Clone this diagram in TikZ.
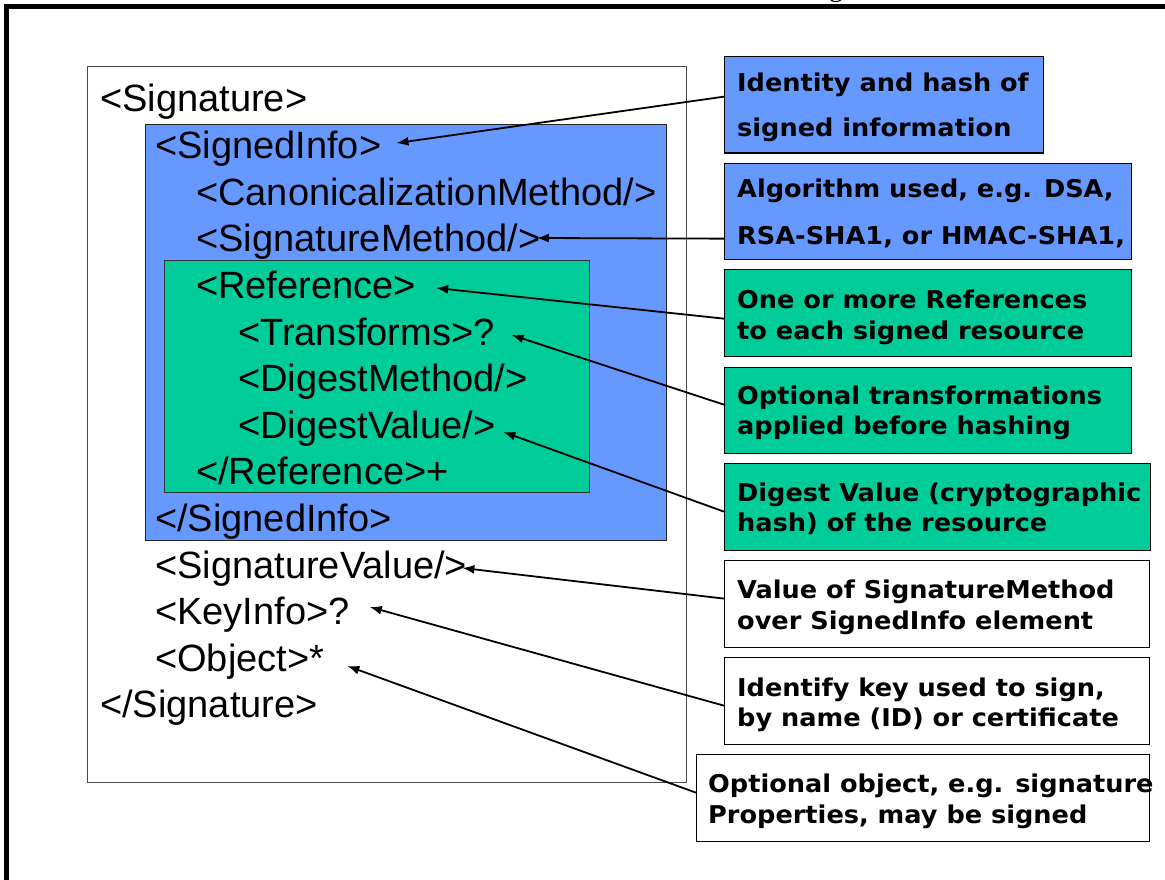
\documentclass[tikz,border=0pt]{standalone}
\usepackage{fontspec}
\setmainfont{Liberation Sans}
\newfontfamily\calloutfont{DejaVu Sans}[FakeStretch=1.045]
\newfontfamily\headfont{Liberation Serif}
\usetikzlibrary{arrows.meta}

\definecolor{infoblue}{RGB}{102,153,255}
\definecolor{refgreen}{RGB}{0,204,153}

\tikzset{
  panel/.style={anchor=north west, inner sep=0pt, line width=1pt},
  tag/.style={anchor=base west, inner sep=0pt, font=\fontsize{38}{46}\selectfont},
  cbox/.style={draw=black, line width=1.3pt, anchor=north west, inner sep=0pt},
  ctext/.style={anchor=base west, inner sep=0pt,
    font=\calloutfont\bfseries\fontsize{24.5}{30}\selectfont},
  pointer/.style={line width=1.8pt, -{Latex[length=12pt,width=9pt]}}
}

\begin{document}
\begin{tikzpicture}[x=1pt, y=-1pt]
\useasboundingbox (0,0) rectangle (1165,880);
\fill[white] (0,0) rectangle (1165,880);

% page frame and the tail of the page heading
\node[anchor=base, inner sep=0pt, font=\headfont\fontsize{28}{30}\selectfont] (heading) at (836,-3) {g};
\draw[line width=5pt, line join=miter] (6.5,890) -- (6.5,6.5) -- (1170,6.5);

% nested element panels
\node[panel, draw=black!70, fill=white, minimum width=599, minimum height=716] (sigpanel) at (87,66) {};
\node[panel, draw=black!85, fill=infoblue, minimum width=521, minimum height=416] (infopanel) at (145,124) {};
\node[panel, draw=black!80, fill=refgreen, minimum width=425, minimum height=232] (refpanel) at (164,260) {};

% XML element listing
\node[tag] (sigopen)   at (100,112)   {<Signature>};
\node[tag] (siopen)    at (155,158.6) {<SignedInfo>};
\node[tag] (canon)     at (196,205.2) {<CanonicalizationMethod/>};
\node[tag] (sigmeth)   at (196,251.8) {<SignatureMethod/>};
\node[tag] (refopen)   at (196,298.4) {<Reference>};
\node[tag] (transf)    at (238,345)   {<Transforms>?};
\node[tag] (digmeth)   at (238,391.6) {<DigestMethod/>};
\node[tag] (digval)    at (238,438.2) {<DigestValue/>};
\node[tag] (refclose)  at (196,484.8) {</Reference>+};
\node[tag] (siclose)   at (155,531.4) {</SignedInfo>};
\node[tag] (sigval)    at (155,578)   {<SignatureValue/>};
\node[tag] (keyinfo)   at (155,624.6) {<KeyInfo>?};
\node[tag] (object)    at (155,671.2) {<Object>*};
\node[tag] (sigclose)  at (100,717.8) {</Signature>};

% explanatory callouts
\node[cbox, fill=infoblue, minimum width=319,   minimum height=96.5] (c1) at (724,56)    {};
\node[cbox, fill=infoblue, minimum width=406.5, minimum height=96]   (c2) at (724,163)   {};
\node[cbox, fill=refgreen, minimum width=406.5, minimum height=87]   (c3) at (724,269)   {};
\node[cbox, fill=refgreen, minimum width=406.5, minimum height=86.5] (c4) at (724,366.5) {};
\node[cbox, fill=refgreen, minimum width=425.5, minimum height=87]   (c5) at (724,463)   {};
\node[cbox, fill=white,    minimum width=425,   minimum height=86.7] (c6) at (724,560)   {};
\node[cbox, fill=white,    minimum width=425,   minimum height=86.5] (c7) at (724,657)   {};
\node[cbox, fill=white,    minimum width=453,   minimum height=87]   (c8) at (696,753.5) {};

\node[ctext] (c1a) at (737,91.5)  {Identity and hash of};
\node[ctext] (c1b) at (737,137)   {signed information};
\node[ctext] (c2a) at (737,197.5) {Algorithm used, e.g. DSA,};
\node[ctext] (c2b) at (737,244)   {RSA-SHA1, or HMAC-SHA1,};
\node[ctext] (c3a) at (737,308)   {One or more References};
\node[ctext] (c3b) at (737,339)   {to each signed resource};
\node[ctext] (c4a) at (737,404)   {Optional transformations};
\node[ctext] (c4b) at (737,434.5) {applied before hashing};
\node[ctext] (c5a) at (737,501)   {Digest Value (cryptographic};
\node[ctext] (c5b) at (737,531.5) {hash) of the resource};
\node[ctext] (c6a) at (737,598)   {Value of SignatureMethod};
\node[ctext] (c6b) at (737,629)   {over SignedInfo element};
\node[ctext] (c7a) at (737,696)   {Identify key used to sign,};
\node[ctext] (c7b) at (737,726)   {by name (ID) or certificate};
\node[ctext] (c8a) at (708,792)   {Optional object, e.g. signature};
\node[ctext] (c8b) at (708,823)   {Properties, may be signed};

% pointers from each callout to its element
\draw[pointer] ([yshift=8.25pt]c1.west)  -- ([xshift=15pt,yshift=15.5pt]siopen.base east);
\draw[pointer] ([yshift=-27pt]c2.west)   -- ([xshift=-4pt,yshift=13.8pt]sigmeth.base east);
\draw[pointer] ([yshift=-5.5pt]c3.west)  -- ([xshift=20pt,yshift=10.4pt]refopen.base east);
\draw[pointer] ([yshift=5.75pt]c4.west)  -- ([xshift=17pt,yshift=10pt]transf.base east);
\draw[pointer] ([yshift=-4.5pt]c5.west)  -- ([xshift=8pt,yshift=6.2pt]digval.base east);
\draw[pointer] ([yshift=5.4pt]c6.west)   -- ([xshift=-5pt,yshift=10pt]sigval.base east);
\draw[pointer] ([yshift=-4.75pt]c7.west) -- ([xshift=20pt,yshift=17.6pt]keyinfo.base east);
\draw[pointer] ([yshift=5pt]c8.west)     -- ([xshift=23pt,yshift=5.2pt]object.base east);
\end{tikzpicture}
\end{document}
